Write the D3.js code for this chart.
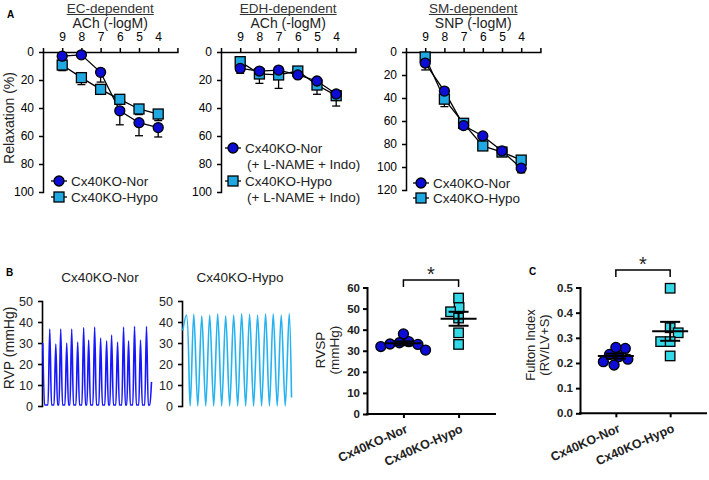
<!DOCTYPE html>
<html><head><meta charset="utf-8">
<script src="https://cdn.jsdelivr.net/npm/d3@7"></script>
<style>body{margin:0;background:#fff}svg{font-family:"Liberation Sans",Arial,sans-serif}</style>
</head><body><svg id="c" width="709" height="480"></svg>
<script>
// ---------- DATA ----------
const doses = [9, 8, 7, 6, 5, 4];
const ecNor = [3, 2, 14.5, 42, 50.5, 54];
const ecNorErr = [1, 0.5, 7, 10, 9.3, 6.7];
const ecHypo = [9.3, 18.3, 26.7, 33.8, 40.7, 44.3];
const ecHypoErr = [4, 5, 3, 2, 4, 4.7];
const edhNor = [11.7, 13.6, 12.9, 16.4, 20.7, 30];
const edhNorErr = [3.5, 2, 2, 2, 2, 3];
const edhHypo = [6.9, 15.7, 16.4, 13.6, 23.6, 31.2];
const edhHypoErr = [3, 6.7, 9.6, 3, 6.6, 7.4];
const smNor = [9.6, 34, 64, 73, 86, 101];
const smNorErr = [6, 3, 3, 2, 2, 4];
const smHypo = [4.3, 41, 62, 81.7, 87, 94];
const smHypoErr = [3, 6.5, 5, 2, 2, 3];

// RVP traces: peak times (ms) and peak pressures (mmHg)
const rvpNorPeakT = [0,128,239,330,440,532,642,752,844,954,1064,1174,1266,1376,1486,1578,1688,1798,1908];
const rvpNorPeakV = [30,36.7,29.5,36.7,30,36.7,30.5,37.3,31.4,37.6,32.4,31,33.8,30.4,37.6,31,38,31.4,37.9];
const rvpNorBase = 0.5;
const rvpNorEnd = [2000, 11.5];
const rvpHypoPeakT = [68,202,349,495,642,789,936,1083,1229,1376,1523,1664,1811,1958];
const rvpHypoPeakV = [43.3,43.8,42.9,43.3,43.9,43,43.3,44,43.7,43.3,43.9,43.9,43.3,44];
const rvpHypoBase = 0;
const rvpHypoStart = [0, 36];
const rvpHypoEnd = [2000, 4];

const groups = ["Cx40KO-Nor", "Cx40KO-Hypo"];
const rvspNor = [32, 34.3, 38, 33, 30.3, 33.2, 33.8];
const rvspHypo = [55, 50.5, 48.5, 45.5, 38.5, 33];
const fultonNor = [0.258, 0.225, 0.192, 0.234, 0.205, 0.262, 0.215];
const fultonHypo = [0.497, 0.34, 0.32, 0.285, 0.285, 0.228];

const rvspTicks = [0, 10, 20, 30, 40, 50, 60];
const fultonTicks = [0, 0.1, 0.2, 0.3, 0.4, 0.5];

// ---------- STYLE ----------
const svg = d3.select("#c");
const cNor = "#0c0cd4", cHypoA = "#1fa8e2", cHypoS = "#34d8e6";
const cTraceNor = "#1818ff", cTraceHypo = "#25b2ee";

function styleAxis(g, w) {
  g.selectAll("path,line").attr("stroke", "#000").attr("stroke-width", w);
  g.select(".domain").attr("stroke-linecap", "square");
}
function circle(g, cx, cy, fill) {
  g.append("circle").attr("cx", cx).attr("cy", cy).attr("r", 5)
    .attr("fill", fill).attr("stroke", "#000").attr("stroke-width", 1.3);
}
function square(g, cx, cy, fill, s = 10) {
  g.append("rect").attr("x", cx - s / 2).attr("y", cy - s / 2).attr("width", s).attr("height", s)
    .attr("fill", fill).attr("stroke", "#000").attr("stroke-width", 1.3);
}

// ---------- PANEL A ----------
function curvePanel(o) {
  const g = svg.append("g");
  const x = d3.scaleLinear().domain([10, 3]).range([o.x0, o.x0 + 134.4]);
  const y = d3.scaleLinear().domain([0, o.ymax]).range([52, o.yb]);
  const ax = g.append("g").attr("transform", "translate(0,52)")
    .call(d3.axisTop(x).tickValues([10, 9, 8, 7, 6, 5, 4, 3]).tickSize(4).tickSizeOuter(0).tickPadding(7)
      .tickFormat(d => (d >= 4 && d <= 9) ? d : ""));
  styleAxis(ax, 1.5);
  ax.selectAll("text").attr("font-size", 12).attr("fill", "#000").attr("font-family", null);
  const ay = g.append("g").attr("transform", `translate(${o.x0},0)`)
    .call(d3.axisLeft(y).tickValues(o.yticks).tickSize(4).tickSizeOuter(0).tickPadding(5));
  styleAxis(ay, 1.5);
  ay.selectAll("text").attr("font-size", 12).attr("fill", "#000").attr("font-family", null);

  // titles
  const cx = x(6.5);
  const t = g.append("text").attr("x", cx).attr("y", 12.5).attr("text-anchor", "middle")
    .attr("font-size", 13.5).attr("fill", "#333").text(o.title);
  const tw = t.node().getComputedTextLength();
  g.append("line").attr("x1", cx - tw / 2).attr("x2", cx + tw / 2).attr("y1", 14.5).attr("y2", 14.5)
    .attr("stroke", "#333").attr("stroke-width", 1);
  g.append("text").attr("x", cx).attr("y", 28).attr("text-anchor", "middle")
    .attr("font-size", 14).attr("fill", "#222").text(o.sub);

  const line = d3.line().x((d, i) => x(doses[i])).y(d => y(d));
  const series = [
    { v: o.hypo, e: o.hypoErr, shape: "sq" },
    { v: o.nor, e: o.norErr, shape: "ci" }
  ];
  series.forEach(s => {
    s.v.forEach((v, i) => {
      const xx = x(doses[i]);
      g.append("line").attr("x1", xx).attr("x2", xx).attr("y1", y(v)).attr("y2", y(v + s.e[i]))
        .attr("stroke", "#000").attr("stroke-width", 1.3);
      g.append("line").attr("x1", xx - 4).attr("x2", xx + 4).attr("y1", y(v + s.e[i])).attr("y2", y(v + s.e[i]))
        .attr("stroke", "#000").attr("stroke-width", 1.3);
    });
  });
  series.forEach(s => {
    g.append("path").attr("d", line(s.v)).attr("fill", "none").attr("stroke", "#000").attr("stroke-width", 1.3);
  });
  series.forEach(s => {
    s.v.forEach((v, i) => {
      if (s.shape === "sq") square(g, x(doses[i]), y(v), cHypoA); else circle(g, x(doses[i]), y(v), cNor);
    });
  });

  // legend
  o.legend.forEach(l => {
    g.append("line").attr("x1", l.mx - 8).attr("x2", l.mx + 8).attr("y1", l.y).attr("y2", l.y)
      .attr("stroke", "#000").attr("stroke-width", 1.3);
    if (l.shape === "sq") square(g, l.mx, l.y, cHypoA); else circle(g, l.mx, l.y, cNor);
    l.lines.forEach((txt, k) => {
      g.append("text").attr("x", l.mx + 12 + (k ? 2 : 0)).attr("y", l.y + k * 16).attr("dy", "0.36em")
        .attr("font-size", 13.5).attr("fill", "#222").text(txt);
    });
  });
}

curvePanel({ x0: 43, ymax: 100, yb: 192, yticks: [0, 20, 40, 60, 80, 100], title: "EC-dependent", sub: "ACh (-logM)",
  nor: ecNor, norErr: ecNorErr, hypo: ecHypo, hypoErr: ecHypoErr,
  legend: [{ mx: 59, y: 181, shape: "ci", lines: ["Cx40KO-Nor"] }, { mx: 59, y: 197, shape: "sq", lines: ["Cx40KO-Hypo"] }] });
curvePanel({ x0: 221, ymax: 100, yb: 192, yticks: [0, 20, 40, 60, 80, 100], title: "EDH-dependent", sub: "ACh (-logM)",
  nor: edhNor, norErr: edhNorErr, hypo: edhHypo, hypoErr: edhHypoErr,
  legend: [{ mx: 233, y: 148, shape: "ci", lines: ["Cx40KO-Nor", "(+ L-NAME + Indo)"] },
           { mx: 233, y: 181, shape: "sq", lines: ["Cx40KO-Hypo", "(+ L-NAME + Indo)"] }] });
curvePanel({ x0: 406, ymax: 120, yb: 190, yticks: [0, 20, 40, 60, 80, 100, 120], title: "SM-dependent", sub: "SNP (-logM)",
  nor: smNor, norErr: smNorErr, hypo: smHypo, hypoErr: smHypoErr,
  legend: [{ mx: 421, y: 183, shape: "ci", lines: ["Cx40KO-Nor"] }, { mx: 421, y: 198, shape: "sq", lines: ["Cx40KO-Hypo"] }] });

svg.append("text").attr("x", 9).attr("y", 118).attr("transform", "rotate(-90,9,118)").attr("dy", "0.35em")
  .attr("text-anchor", "middle").attr("font-size", 14).attr("fill", "#222").text("Relaxation (%)");

// ---------- PANEL LABELS ----------
[["A", 7, 18], ["B", 6, 276], ["C", 529, 275]].forEach(([t, x, y]) =>
  svg.append("text").attr("x", x).attr("y", y).attr("font-size", 10).attr("font-weight", "bold").text(t));

// ---------- PANEL B TRACES ----------
function tracePanel(o) {
  const g = svg.append("g");
  const tx = d3.scaleLinear().domain([0, 2000]).range([o.x0 + 0.8, o.x0 + 109.5]);
  const ty = d3.scaleLinear().domain([0, 50]).range([406, 301]);
  const ay = g.append("g").attr("transform", `translate(${o.x0},0)`)
    .call(d3.axisLeft(ty).tickValues([0, 10, 20, 30, 40, 50]).tickSize(4).tickSizeOuter(0).tickPadding(5));
  styleAxis(ay, 1.6);
  ay.selectAll("text").attr("font-size", 12.5).attr("fill", "#222").attr("font-family", null);
  g.append("text").attr("x", o.x0 + 58).attr("y", 282).attr("text-anchor", "middle")
    .attr("font-size", 13.5).attr("fill", "#222").text(o.title);
  const pts = o.points(tx, ty);
  g.append("path").attr("d", d3.line().curve(o.curve)(pts)).attr("fill", "none")
    .attr("stroke", o.color).attr("stroke-width", 1.6);
}
tracePanel({ x0: 42, title: "Cx40KO-Nor", color: cTraceNor, curve: d3.curveMonotoneX,
  points: (tx, ty) => {
    const w = 32, p = [];
    rvpNorPeakT.forEach((t, i) => {
      if (t - w >= 0) p.push([tx(t - w), ty(rvpNorBase)]);
      p.push([tx(t), ty(rvpNorPeakV[i])]);
      p.push([tx(t + w), ty(rvpNorBase)]);
    });
    p.push([tx(rvpNorEnd[0] - 30), ty(rvpNorBase)]);
    p.push([tx(rvpNorEnd[0]), ty(rvpNorEnd[1])]);
    return p;
  } });
tracePanel({ x0: 182, title: "Cx40KO-Hypo", color: cTraceHypo, curve: d3.curveCatmullRom,
  points: (tx, ty) => {
    const p = [[tx(rvpHypoStart[0]), ty(rvpHypoStart[1])]];
    rvpHypoPeakT.forEach((t, i) => {
      p.push([tx(t), ty(rvpHypoPeakV[i])]);
      if (i < rvpHypoPeakT.length - 1) p.push([tx((t + rvpHypoPeakT[i + 1]) / 2), ty(rvpHypoBase)]);
    });
    p.push([tx(rvpHypoEnd[0]), ty(rvpHypoEnd[1])]);
    return p;
  } });
svg.append("text").attr("x", 9).attr("y", 348).attr("transform", "rotate(-90,9,348)").attr("dy", "0.35em")
  .attr("text-anchor", "middle").attr("font-size", 14).attr("fill", "#222").text("RVP (mmHg)");

// ---------- SCATTER PANELS ----------
function beeswarm(vals, ys, D) {
  const order = vals.map((v, i) => i).sort((a, b) => vals[b] - vals[a]);
  const placed = [], off = new Array(vals.length);
  order.forEach(i => {
    const yi = ys(vals[i]);
    const cands = [0];
    placed.forEach(p => {
      const dy = Math.abs(p.y - yi);
      if (dy < D) { const dx = Math.sqrt(D * D - dy * dy); cands.push(p.x + dx, p.x - dx); }
    });
    cands.sort((a, b) => Math.abs(a) - Math.abs(b));
    const ok = cands.find(c => placed.every(p => Math.hypot(p.x - c, p.y - yi) >= D - 0.01));
    off[i] = ok; placed.push({ x: ok, y: yi });
  });
  return off;
}
function scatterPanel(o) {
  const g = svg.append("g");
  const x = d3.scalePoint().domain(groups).range([o.x0, o.x1]).padding(0.66);
  const y = d3.scaleLinear().domain([0, o.ymax]).range([o.yb, 287.5]);
  const ay = g.append("g").attr("transform", `translate(${o.x0},0)`)
    .call(d3.axisLeft(y).tickValues(o.ticks).tickSize(4).tickSizeOuter(0).tickPadding(3).tickFormat(o.fmt));
  styleAxis(ay, 2);
  ay.selectAll("text").attr("font-size", 11.5).attr("font-weight", "bold").attr("fill", "#222").attr("font-family", null);
  const ax = g.append("g").attr("transform", `translate(0,${o.yb})`)
    .call(d3.axisBottom(x).tickSize(4).tickSizeOuter(0).tickFormat(""));
  ax.select(".domain").attr("d", `M${o.x0},0H${o.x1}`);
  styleAxis(ax, 2);
  groups.forEach(gn => {
    g.append("text").attr("text-anchor", "end").attr("font-size", 12.5).attr("font-weight", "bold").attr("fill", "#222")
      .attr("transform", `translate(${x(gn) + 5},${o.yb + 18}) rotate(-24)`).text(gn);
  });
  // y label
  o.ylab.forEach((t, k) => {
    const lx = o.ylabX + k * o.ylabGap;
    g.append("text").attr("x", lx).attr("y", o.ylabY).attr("transform", `rotate(-90,${lx},${o.ylabY})`)
      .attr("dy", "0.35em").attr("text-anchor", "middle").attr("font-size", o.ylabSize).attr("fill", "#222").text(t);
  });
  // points
  [[o.nor, "ci"], [o.hypo, "sq"]].forEach(([vals, sh], gi) => {
    const cx = x(groups[gi]);
    const off = beeswarm(vals, y, 9.5);
    vals.forEach((v, i) => {
      if (sh === "ci") circle(g, cx + off[i], y(v), cNor); else square(g, cx + off[i], y(v), cHypoS, 9.5);
    });
    const m = d3.mean(vals), sem = d3.deviation(vals) / Math.sqrt(vals.length);
    const L = (x1, x2, y1, y2) => g.append("line").attr("x1", x1).attr("x2", x2).attr("y1", y1).attr("y2", y2)
      .attr("stroke", "#000").attr("stroke-width", 2);
    L(cx - 18, cx + 18, y(m), y(m));
    L(cx - 10, cx + 10, y(m + sem), y(m + sem));
    L(cx - 10, cx + 10, y(m - sem), y(m - sem));
    L(cx, cx, y(m + sem), y(m - sem));
  });
  // bracket
  const x1 = x(groups[0]), x2 = x(groups[1]);
  g.append("path").attr("d", `M${x1},${o.brY + 7}V${o.brY}H${x2}V${o.brY + 7}`).attr("fill", "none")
    .attr("stroke", "#000").attr("stroke-width", 1.5);
  g.append("text").attr("x", (x1 + x2) / 2).attr("y", o.brY + 1).attr("text-anchor", "middle")
    .attr("font-size", 20).attr("fill", "#222").text("*");
}
scatterPanel({ x0: 367, x1: 495, yb: 414, ymax: 60, ticks: rvspTicks, fmt: d3.format("d"),
  nor: rvspNor, hypo: rvspHypo, ylab: ["RVSP", "(mmHg)"], ylabX: 320, ylabY: 350, ylabGap: 14, ylabSize: 13.5, brY: 280 });
scatterPanel({ x0: 580, x1: 706, yb: 413.3, ymax: 0.5, ticks: fultonTicks, fmt: d3.format(".1f"),
  nor: fultonNor, hypo: fultonHypo, ylab: ["Fulton Index", "(RV/LV+S)"], ylabX: 530, ylabY: 345, ylabGap: 14.5, ylabSize: 13, brY: 270 });
</script></body></html>
